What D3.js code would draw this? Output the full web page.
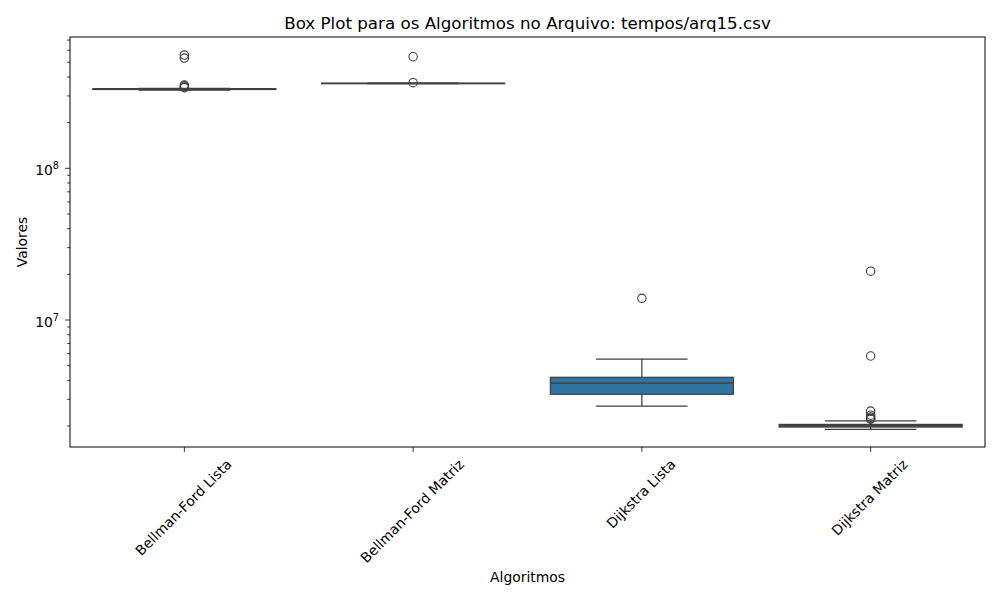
<!DOCTYPE html>
<html>
<head>
<meta charset="utf-8">
<title>Box Plot</title>
<script src="https://d3js.org/d3.v7.min.js"></script>
<style>
  body { margin: 0; background: #fff; }
  text { font-family: "DejaVu Sans", sans-serif; fill: #000; }
</style>
</head>
<body>
<script>
// values (execution times)
var algorithms = ["Bellman-Ford Lista", "Bellman-Ford Matriz", "Dijkstra Lista", "Dijkstra Matriz"];
var whiskerLow  = [3.28e8, 3.61e8, 2.71e6, 1.90e6];
var q1          = [3.31e8, 3.62e8, 3.24e6, 1.97e6];
var median      = [3.33e8, 3.63e8, 3.83e6, 2.01e6];
var q3          = [3.35e8, 3.64e8, 4.19e6, 2.05e6];
var whiskerHigh = [3.36e8, 3.65e8, 5.53e6, 2.16e6];
var outliers = [
  [5.58e8, 5.33e8, 3.54e8, 3.49e8, 3.43e8, 3.40e8],
  [5.44e8, 3.67e8],
  [1.39e7],
  [2.10e7, 5.79e6, 2.51e6, 2.36e6, 2.29e6, 2.24e6, 2.22e6]
];
var yTicks = [1e7, 1e8];

var W = 1000, H = 600;
var pLeft = 70, pRight = 985, pTop = 37, pBottom = 447;
var boxColor = "#3274a1", lineColor = "#3f3f3f";

var svg = d3.select("body").append("svg")
    .attr("width", W)
    .attr("height", H);

var x = d3.scaleBand()
    .domain(algorithms)
    .range([pLeft, pRight])
    .padding(0);

var y = d3.scaleLog()
    .domain([1.455e6, 7.34e8])
    .range([pBottom, pTop]);

var bw = x.bandwidth() * 0.8;
function cx(i) { return x(algorithms[i]) + x.bandwidth() / 2; }

var g = svg.append("g");

algorithms.forEach(function(a, i) {
  var c = cx(i);
  // whiskers
  g.append("line")
    .attr("x1", c).attr("x2", c)
    .attr("y1", y(q3[i])).attr("y2", y(whiskerHigh[i]))
    .attr("stroke", lineColor).attr("stroke-width", 1.25);
  g.append("line")
    .attr("x1", c).attr("x2", c)
    .attr("y1", y(q1[i])).attr("y2", y(whiskerLow[i]))
    .attr("stroke", lineColor).attr("stroke-width", 1.25);
  // caps
  [whiskerLow[i], whiskerHigh[i]].forEach(function(v) {
    g.append("line")
      .attr("x1", c - bw / 4).attr("x2", c + bw / 4)
      .attr("y1", y(v)).attr("y2", y(v))
      .attr("stroke", lineColor).attr("stroke-width", 1.25);
  });
  // box
  g.append("rect")
    .attr("x", c - bw / 2)
    .attr("y", y(q3[i]))
    .attr("width", bw)
    .attr("height", Math.max(0.5, y(q1[i]) - y(q3[i])))
    .attr("fill", boxColor)
    .attr("stroke", lineColor)
    .attr("stroke-width", 1.25);
  // median
  g.append("line")
    .attr("x1", c - bw / 2).attr("x2", c + bw / 2)
    .attr("y1", y(median[i])).attr("y2", y(median[i]))
    .attr("stroke", lineColor).attr("stroke-width", 1.25);
  // fliers
  g.selectAll(null)
    .data(outliers[i])
    .enter().append("circle")
    .attr("cx", c)
    .attr("cy", function(d) { return y(d); })
    .attr("r", 4.2)
    .attr("fill", "none")
    .attr("stroke", lineColor)
    .attr("stroke-width", 1.1);
});

// frame
svg.append("rect")
  .attr("x", pLeft).attr("y", pTop)
  .attr("width", pRight - pLeft).attr("height", pBottom - pTop)
  .attr("fill", "none").attr("stroke", "#000").attr("stroke-width", 1);

// y axis ticks
var minor = [];
[1e6, 1e7, 1e8].forEach(function(base) {
  for (var k = 2; k <= 9; k++) {
    var v = base * k;
    if (v > y.domain()[0] && v < y.domain()[1]) minor.push(v);
  }
});
svg.selectAll(".minor").data(minor).enter().append("line")
  .attr("x1", pLeft - 2.8).attr("x2", pLeft)
  .attr("y1", function(d) { return y(d); })
  .attr("y2", function(d) { return y(d); })
  .attr("stroke", "#000").attr("stroke-width", 0.8);
svg.selectAll(".major").data(yTicks).enter().append("line")
  .attr("x1", pLeft - 4.9).attr("x2", pLeft)
  .attr("y1", function(d) { return y(d); })
  .attr("y2", function(d) { return y(d); })
  .attr("stroke", "#000").attr("stroke-width", 0.8);

var yl = svg.selectAll(".ylab").data(yTicks).enter().append("text")
  .attr("x", pLeft - 11)
  .attr("y", function(d) { return y(d) + 7; })
  .attr("text-anchor", "end")
  .style("font-size", "13.9px");
yl.append("tspan").text("10");
yl.append("tspan")
  .attr("dy", -6)
  .style("font-size", "9.7px")
  .text(function(d) { return Math.round(Math.log10(d)); });

// x axis ticks and rotated labels
algorithms.forEach(function(a, i) {
  var c = cx(i);
  svg.append("line")
    .attr("x1", c).attr("x2", c)
    .attr("y1", pBottom).attr("y2", pBottom + 4.9)
    .attr("stroke", "#000").attr("stroke-width", 0.8);
  var t = svg.append("text")
    .attr("text-anchor", "middle")
    .attr("dominant-baseline", "central")
    .style("font-size", "13.9px")
    .text(a);
  var w = t.node().getComputedTextLength();
  var h = 13.9;
  var half = (w + h) / (2 * Math.SQRT2);
  t.attr("transform", "translate(" + (c - 1) + "," + (pBottom + 9.8 + half) + ") rotate(-45)");
});

// labels and title
svg.append("text")
  .attr("x", (pLeft + pRight) / 2).attr("y", 582)
  .attr("text-anchor", "middle")
  .style("font-size", "13.9px")
  .text("Algoritmos");

svg.append("text")
  .attr("transform", "translate(27," + (pTop + pBottom) / 2 + ") rotate(-90)")
  .attr("text-anchor", "middle")
  .style("font-size", "13.9px")
  .text("Valores");

svg.append("text")
  .attr("x", (pLeft + pRight) / 2).attr("y", 29)
  .attr("text-anchor", "middle")
  .style("font-size", "16.7px")
  .text("Box Plot para os Algoritmos no Arquivo: tempos/arq15.csv");
</script>
</body>
</html>
